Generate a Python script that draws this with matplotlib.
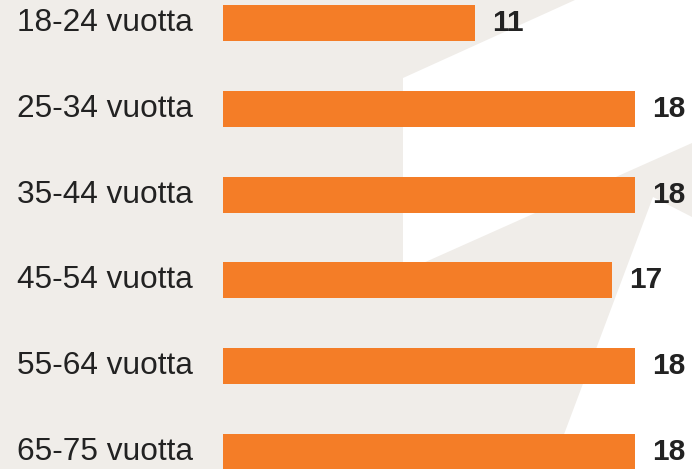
import matplotlib
matplotlib.use("Agg")
import matplotlib.pyplot as plt
from matplotlib.patches import Polygon

categories = ["18-24 vuotta", "25-34 vuotta", "35-44 vuotta", "45-54 vuotta", "55-64 vuotta", "65-75 vuotta"]
values = [11, 18, 18, 17, 18, 18]

W, H = 692, 469
BG = "#F0EDE9"
ORANGE = "#F47D27"
TEXT = "#222222"

fig = plt.figure(figsize=(W / 100, H / 100), dpi=100, facecolor=BG)

# decorative white shapes (figure pixel coords, y down)
def fpoly(pts):
    return Polygon([(x / W, 1 - y / H) for x, y in pts], closed=True,
                   transform=fig.transFigure, facecolor="white", edgecolor="none", zorder=-1)

fig.patches.append(fpoly([(575, 0), (692, 0), (692, 143), (403, 272), (403, 78)]))
fig.patches.append(fpoly([(653, 197), (692, 217), (692, 469), (551, 469)]))

ax = fig.add_axes([0, 0, 1, 1])
ax.set_zorder(1)
ax.set_facecolor("none")
px_per_unit = (635 - 223) / 18.0
ax.set_xlim(-223 / px_per_unit, (W - 223) / px_per_unit)
step = 85.8
ax.set_ylim((H - 23) / step, -23 / step)

ypos = list(range(len(categories)))
ax.barh(ypos, values, height=36 / step, color=ORANGE, zorder=2)

for y, cat, v in zip(ypos, categories, values):
    ax.annotate(cat, xy=(0, y), xytext=(-30, 0), textcoords="offset pixels",
                ha="right", va="center", fontsize=22.8, color=TEXT,
                family="Liberation Sans")
    ax.annotate(str(v), xy=(v, y), xytext=(17, 0), textcoords="offset pixels",
                ha="left", va="center", fontsize=21.5, fontweight="bold", color=TEXT,
                family="Liberation Sans")

ax.axis("off")
fig.savefig("out.png", dpi=100, facecolor=BG)
